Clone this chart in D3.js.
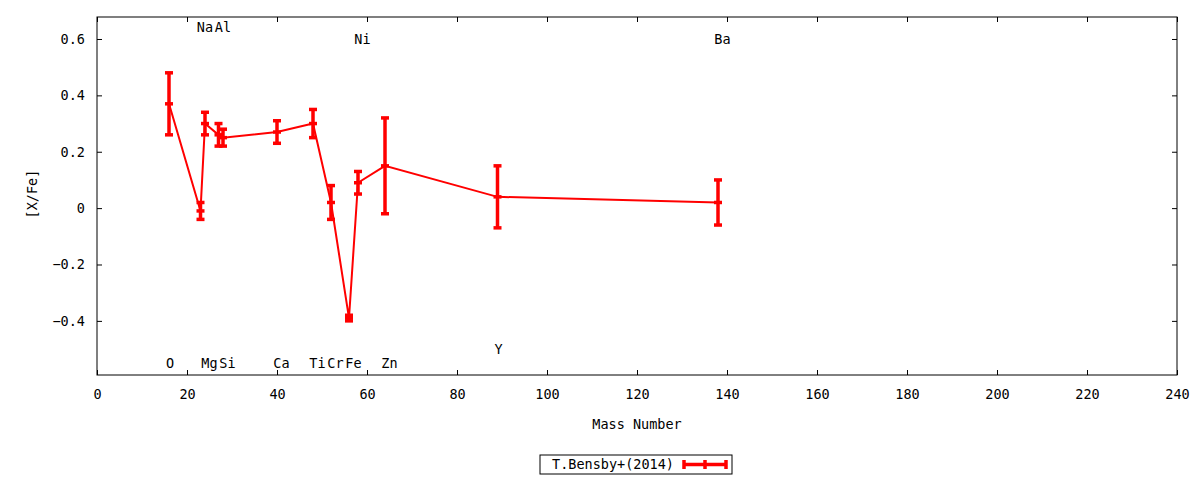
<!DOCTYPE html>
<html>
<head>
<meta charset="utf-8">
<script src="https://cdn.jsdelivr.net/npm/d3@7"></script>
<style>
  body { margin: 0; background: #fff; }
  text { font-family: "DejaVu Sans Mono", monospace; font-size: 13.5px; fill: #000; }
</style>
</head>
<body>
<div id="chart"></div>
<script>
// element data: mass number, [X/Fe], error
var elements = ["O", "Na", "Mg", "Al", "Si", "Ca", "Ti", "Cr", "Fe", "Ni", "Zn", "Y", "Ba"];
var massNumber = [16, 23, 24, 27, 28, 40, 48, 52, 56, 58, 64, 89, 138];
var xfe = [0.37, -0.01, 0.30, 0.26, 0.25, 0.27, 0.30, 0.02, -0.39, 0.09, 0.15, 0.04, 0.02];
var xfeErr = [0.11, 0.03, 0.04, 0.04, 0.03, 0.04, 0.05, 0.06, 0.01, 0.04, 0.17, 0.11, 0.08];
// y position of each element name label
var labelY = [-0.55, 0.64, -0.55, 0.64, -0.55, -0.55, -0.55, -0.55, -0.55, 0.6, -0.55, -0.5, 0.6];

var xTicks = [0, 20, 40, 60, 80, 100, 120, 140, 160, 180, 200, 220, 240];
var yTicks = [-0.4, -0.2, 0, 0.2, 0.4, 0.6];
var seriesName = "T.Bensby+(2014)";

// set the dimensions and margins of the graph
var W = 1200, H = 480;
var margin = {top: 17, right: 23, bottom: 105, left: 97},
    width = W - margin.left - margin.right,
    height = H - margin.top - margin.bottom;

var x = d3.scaleLinear().domain([0, 240]).range([0, width]);
var y = d3.scaleLinear().domain([-0.592, 0.678]).range([height, 0]);

var svg = d3.select("#chart").append("svg")
    .attr("width", W)
    .attr("height", H);

var g = svg.append("g")
    .attr("transform", "translate(" + margin.left + "," + margin.top + ")");

var data = elements.map(function(name, i) {
    return {name: name, m: massNumber[i], v: xfe[i], e: xfeErr[i], ly: labelY[i]};
});

// axes, ticks pointing inward, mirrored on top/right
function fmtY(d) { return d === 0 ? "0" : d3.format(".1f")(d); }

var axB = g.append("g")
    .attr("transform", "translate(0," + height + ")")
    .call(d3.axisBottom(x).tickValues(xTicks).tickSizeInner(-5).tickSizeOuter(0).tickPadding(14));
var axT = g.append("g")
    .call(d3.axisTop(x).tickValues(xTicks).tickSizeInner(-5).tickSizeOuter(0).tickFormat(""));
var axL = g.append("g")
    .call(d3.axisLeft(y).tickValues(yTicks).tickSizeInner(-5).tickSizeOuter(0).tickPadding(12).tickFormat(fmtY));
var axR = g.append("g")
    .attr("transform", "translate(" + width + ",0)")
    .call(d3.axisRight(y).tickValues(yTicks).tickSizeInner(-5).tickSizeOuter(0).tickFormat(""));

[axB, axT, axL, axR].forEach(function(a) {
    a.select(".domain").remove();
    a.selectAll("line").attr("stroke", "#000");
    a.selectAll("text").style("font-size", "13.5px").attr("fill", "#000");
});

// frame
g.append("rect")
    .attr("width", width)
    .attr("height", height)
    .attr("fill", "none")
    .attr("stroke", "#000")
    .attr("stroke-width", 1);

// axis titles
g.append("text")
    .attr("x", width / 2)
    .attr("y", height + 54)
    .attr("text-anchor", "middle")
    .text("Mass Number");

svg.append("text")
    .attr("transform", "translate(37," + (margin.top + y(0.05)) + ") rotate(-90)")
    .attr("text-anchor", "middle")
    .text("[X/Fe]");

var red = "#ff0000";

// connecting line
var line = d3.line()
    .x(function(d) { return x(d.m); })
    .y(function(d) { return y(d.v); });

g.append("path")
    .datum(data)
    .attr("fill", "none")
    .attr("stroke", red)
    .attr("stroke-width", 2)
    .attr("d", line);

// error bars
var cap = 4;
var bars = g.selectAll(".err")
    .data(data)
    .enter().append("g")
    .attr("class", "err");

bars.append("line")
    .attr("x1", function(d) { return x(d.m); })
    .attr("x2", function(d) { return x(d.m); })
    .attr("y1", function(d) { return y(d.v + d.e); })
    .attr("y2", function(d) { return y(d.v - d.e); })
    .attr("stroke", red)
    .attr("stroke-width", 3.5);

[function(d) { return d.v + d.e; }, function(d) { return d.v; }, function(d) { return d.v - d.e; }]
    .forEach(function(fy) {
        bars.append("line")
            .attr("x1", function(d) { return x(d.m) - cap; })
            .attr("x2", function(d) { return x(d.m) + cap; })
            .attr("y1", function(d) { return y(fy(d)); })
            .attr("y2", function(d) { return y(fy(d)); })
            .attr("stroke", red)
            .attr("stroke-width", 3.5);
    });

// element labels
g.selectAll(".elabel")
    .data(data)
    .enter().append("text")
    .attr("class", "elabel")
    .attr("x", function(d) { return x(d.m) + 1 + (d.name.length - 1) * 3.5; })
    .attr("y", function(d) { return y(d.ly); })
    .attr("dy", "0.35em")
    .attr("text-anchor", "middle")
    .text(function(d) { return d.name; });

// legend
var lg = svg.append("g").attr("transform", "translate(540,455)");
lg.append("rect")
    .attr("width", 192)
    .attr("height", 19)
    .attr("fill", "#fff")
    .attr("stroke", "#000");
lg.append("text")
    .attr("x", 134)
    .attr("y", 9.5)
    .attr("dy", "0.35em")
    .attr("text-anchor", "end")
    .text(seriesName);
lg.append("line")
    .attr("x1", 144).attr("x2", 186)
    .attr("y1", 9.5).attr("y2", 9.5)
    .attr("stroke", red).attr("stroke-width", 3.5);
[144, 165, 186].forEach(function(px) {
    lg.append("line")
        .attr("x1", px).attr("x2", px)
        .attr("y1", 5).attr("y2", 14)
        .attr("stroke", red).attr("stroke-width", 3.5);
});
</script>
</body>
</html>
